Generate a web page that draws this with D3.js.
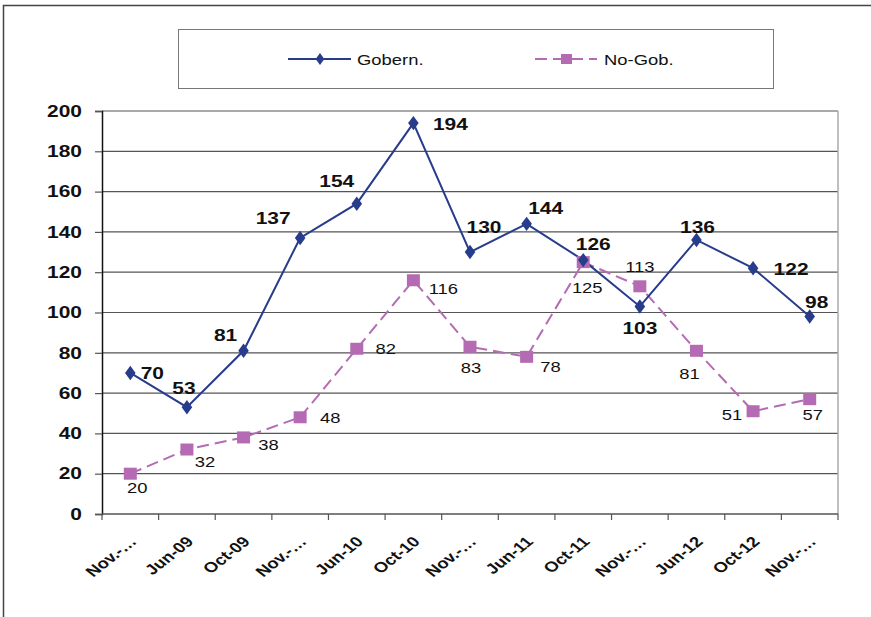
<!DOCTYPE html>
<html>
<head>
<meta charset="utf-8">
<script src="https://cdn.jsdelivr.net/npm/d3@7"></script>
<style>
  body { margin: 0; background: #fff; }
  svg { display: block; font-family: Arial, "Liberation Sans", sans-serif; }
</style>
</head>
<body>
<svg id="chart"></svg>
<script>
const categories = ["Nov.-…", "Jun-09", "Oct-09", "Nov.-…", "Jun-10", "Oct-10", "Nov.-…",
                    "Jun-11", "Oct-11", "Nov.-…", "Jun-12", "Oct-12", "Nov.-…"];
const gobern = [70, 53, 81, 137, 154, 194, 130, 144, 126, 103, 136, 122, 98];
const noGob = [20, 32, 38, 48, 82, 116, 83, 78, 125, 113, 81, 51, 57];
const yTicks = [0, 20, 40, 60, 80, 100, 120, 140, 160, 180, 200];

// label nudges (px) so labels sit like in the original
const gobOff = [[22, 0], [-3, -19], [-18, -16], [-27, -20], [-20, -23], [37, 1], [14, -25],
                [19, -16], [10, -16], [0, 22], [1, -13], [38, 1], [7, -14]];
const noOff = [[7, 14], [18, 12], [25, 7], [30, 0], [29, 0], [30, 9], [1, 21],
               [24, 10], [4, 26], [0, -20], [-7, 23], [-21, 4], [3, 16]];

const W = 871, H = 617;
const margin = { top: 111, right: 33, bottom: 103, left: 102 };
const w = W - margin.left - margin.right;
const h = H - margin.top - margin.bottom;

const navy = "#283c8c", pink = "#b56bb4";
const SX = 1.27; // the original picture is stretched sideways

const place = (px, py, extra = "") => `translate(${px},${py}) scale(${SX},1)${extra}`;

const root = d3.select("#chart").attr("width", W).attr("height", H);

// outer frame
root.append("rect").attr("x", 3.5).attr("y", 5.5).attr("width", W + 10).attr("height", H + 10)
  .attr("fill", "none").attr("stroke", "#444").attr("stroke-width", 1.5);

// legend
const leg = root.append("g");
leg.append("rect").attr("x", 178.5).attr("y", 29.5).attr("width", 595).attr("height", 59)
  .attr("fill", "#fff").attr("stroke", "#777").attr("stroke-width", 1);
leg.append("line").attr("x1", 288).attr("x2", 351).attr("y1", 59).attr("y2", 59)
  .attr("stroke", navy).attr("stroke-width", 2);
leg.append("path").attr("d", d3.symbol(d3.symbolDiamond, 40)()).attr("transform", place(320, 59))
  .attr("fill", navy);
leg.append("text").attr("transform", place(357, 64.5)).attr("font-size", 14.5).attr("fill", "#111").text("Gobern.");
leg.append("line").attr("x1", 535).attr("x2", 597).attr("y1", 59).attr("y2", 59)
  .attr("stroke", pink).attr("stroke-width", 2).attr("stroke-dasharray", "12,6");
leg.append("rect").attr("x", 561).attr("y", 54).attr("width", 11).attr("height", 10).attr("fill", pink);
leg.append("text").attr("transform", place(604, 64.5)).attr("font-size", 14.5).attr("fill", "#111").text("No-Gob.");

const svg = root.append("g").attr("transform", `translate(${margin.left},${margin.top})`);

const x = d3.scaleBand().domain(d3.range(categories.length)).range([0, w]);
const y = d3.scaleLinear().domain([0, 200]).range([h, 0]);
const cx = i => x(i) + x.bandwidth() / 2;

// gridlines
svg.append("g").selectAll("line").data(yTicks.filter(d => d > 0)).join("line")
  .attr("x1", 0).attr("x2", w).attr("y1", d => y(d)).attr("y2", d => y(d))
  .attr("stroke", "#555").attr("stroke-width", 1.2);

// right edge
svg.append("line").attr("x1", w).attr("x2", w).attr("y1", 0).attr("y2", h)
  .attr("stroke", "#aaa").attr("stroke-width", 1.5);

// y axis
const gY = svg.append("g").call(d3.axisLeft(y).tickValues(yTicks).tickSize(7).tickPadding(12));
gY.select(".domain").attr("stroke", "#111").attr("stroke-width", 1.5);
gY.selectAll(".tick line").attr("stroke", "#555").attr("stroke-width", 1.2);
gY.selectAll(".tick text").attr("x", null).attr("transform", place(-20, 0))
  .attr("font-size", 16.5).attr("font-weight", "bold").attr("fill", "#111")
  .attr("font-family", "Arial, 'Liberation Sans', sans-serif");

// x axis
const xb = svg.append("g").attr("transform", `translate(0,${h})`);
xb.append("line").attr("x1", 0).attr("x2", w).attr("stroke", "#555").attr("stroke-width", 1.5);
xb.selectAll(".xt").data(d3.range(categories.length + 1)).join("line")
  .attr("x1", i => i * x.step()).attr("x2", i => i * x.step()).attr("y1", 0).attr("y2", 6)
  .attr("stroke", "#555").attr("stroke-width", 1.2);
xb.selectAll(".xl").data(categories).join("text")
  .attr("transform", (d, i) => place(cx(i) + 3, 25, " rotate(-45)"))
  .attr("text-anchor", "end").attr("dy", "0.35em")
  .attr("font-size", 14.5).attr("font-weight", "bold").attr("fill", "#111").text(d => d);

// lines
const lineGen = d3.line().x((d, i) => cx(i)).y(d => y(d));
svg.append("path").datum(noGob).attr("d", lineGen).attr("fill", "none")
  .attr("stroke", pink).attr("stroke-width", 2).attr("stroke-dasharray", "12,6");
svg.append("path").datum(gobern).attr("d", lineGen).attr("fill", "none")
  .attr("stroke", navy).attr("stroke-width", 2);

// markers
svg.selectAll(".sq").data(noGob).join("rect")
  .attr("x", (d, i) => cx(i) - 6.5).attr("y", d => y(d) - 6).attr("width", 13).attr("height", 12)
  .attr("fill", pink);
svg.selectAll(".dm").data(gobern).join("path")
  .attr("d", d3.symbol(d3.symbolDiamond, 60)())
  .attr("transform", (d, i) => place(cx(i), y(d))).attr("fill", navy);

// labels
svg.selectAll(".gl").data(gobern).join("text")
  .attr("transform", (d, i) => place(cx(i) + gobOff[i][0], y(d) + gobOff[i][1]))
  .attr("dy", "0.36em").attr("text-anchor", "middle")
  .attr("font-size", 16.5).attr("font-weight", "bold").attr("fill", "#111").text(d => d);
svg.selectAll(".nl").data(noGob).join("text")
  .attr("transform", (d, i) => place(cx(i) + noOff[i][0], y(d) + noOff[i][1]))
  .attr("dy", "0.36em").attr("text-anchor", "middle")
  .attr("font-size", 14.5).attr("fill", "#111").text(d => d);
</script>
</body>
</html>
